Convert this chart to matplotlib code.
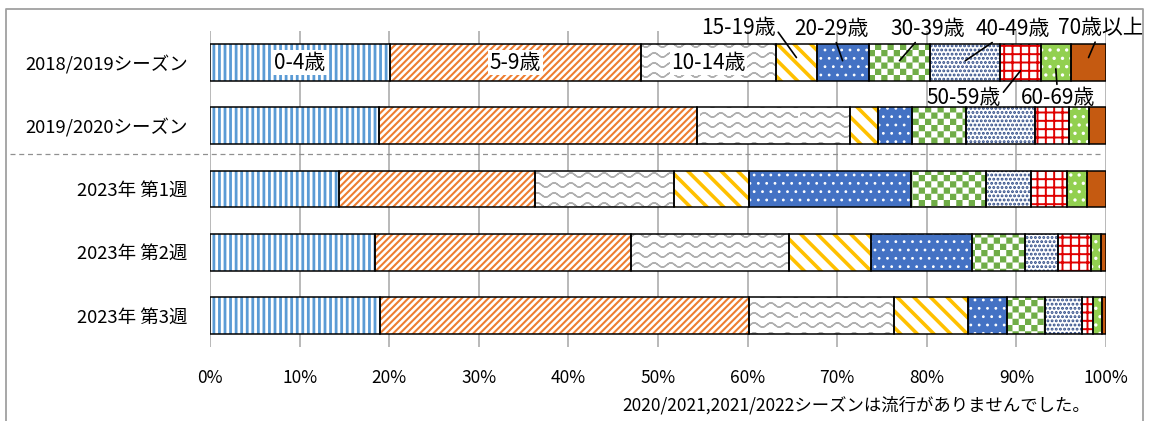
import warnings
import numpy as np
import matplotlib
matplotlib.use('Agg')
import matplotlib.pyplot as plt
import matplotlib.hatch as mhatch
from matplotlib.path import Path
from matplotlib.lines import Line2D
from matplotlib.transforms import blended_transform_factory

warnings.filterwarnings('ignore')

# データ
periods = ['2018/2019シーズン', '2019/2020シーズン',
           '2023年 第1週', '2023年 第2週', '2023年 第3週']
age_groups = ['0-4歳', '5-9歳', '10-14歳', '15-19歳', '20-29歳',
              '30-39歳', '40-49歳', '50-59歳', '60-69歳', '70歳以上']
# 各期間の年齢群別割合(%)
season_2018_19 = [20.1, 28.0, 15.1, 4.5, 5.8, 6.9, 7.8, 4.5, 3.4, 3.9]
season_2019_20 = [18.9, 35.4, 17.1, 3.2, 3.7, 6.1, 7.7, 3.8, 2.2, 1.9]
week1_2023 = [14.4, 21.9, 15.5, 8.4, 18.0, 8.4, 5.0, 4.1, 2.2, 2.1]
week2_2023 = [18.4, 28.6, 17.6, 9.2, 11.2, 6.0, 3.6, 3.7, 1.1, 0.6]
week3_2023 = [19.0, 41.2, 16.1, 8.3, 4.3, 4.3, 4.1, 1.3, 0.9, 0.5]
x_ticks = [0, 10, 20, 30, 40, 50, 60, 70, 80, 90, 100]
note = '2020/2021,2021/2022シーズンは流行がありませんでした。'


# 波線と市松模様のハッチを追加
class WaveHatch(mhatch.HatchPatternBase):
    def __init__(self, hatch, density):
        self.num_rows = hatch.count('~') * 10
        self.num_pts = 49
        self.num_vertices = self.num_rows * self.num_pts * 2

    def set_vertices_and_codes(self, vertices, codes):
        t = np.linspace(0, 1, self.num_pts)
        wave = 0.022 * np.sin(2 * np.pi * 6 * t)
        n = 2 * self.num_pts
        for i in range(self.num_rows):
            y0 = (i + 0.5) / self.num_rows
            ys = y0 + wave
            vertices[i * n:(i + 1) * n, 0] = np.concatenate([t, t[::-1]])
            vertices[i * n:(i + 1) * n, 1] = np.concatenate([ys, ys[::-1]])
            codes[i * n:(i + 1) * n] = Path.LINETO
            codes[i * n] = Path.MOVETO


class CheckerHatch(mhatch.HatchPatternBase):
    def __init__(self, hatch, density):
        self.n = hatch.count('#') * 16
        self.num_vertices = (self.n * self.n // 2) * 5

    def set_vertices_and_codes(self, vertices, codes):
        s = 1.0 / self.n
        k = 0
        for r in range(self.n):
            for c in range(self.n):
                if (r + c) % 2:
                    continue
                x0, y0 = c * s, r * s
                vertices[k:k + 5] = [(x0, y0), (x0 + s, y0), (x0 + s, y0 + s),
                                     (x0, y0 + s), (x0, y0)]
                codes[k:k + 5] = [Path.MOVETO, Path.LINETO, Path.LINETO,
                                  Path.LINETO, Path.CLOSEPOLY]
                k += 5


mhatch._hatch_types.append(WaveHatch)
mhatch._hatch_types.append(CheckerHatch)

plt.rcParams['font.family'] = ['Noto Sans CJK JP', 'DejaVu Sans']
plt.rcParams['font.size'] = 12.5
plt.rcParams['hatch.linewidth'] = 1.5

# (塗り色, 模様色, ハッチ, 模様線幅)
styles = [
    ('white', '#5B9BD5', '|||', 2.0),
    ('white', '#ED7D31', '/////', 1.5),
    ('white', '#B0B0B0', '~', 1.0),
    ('white', '#FFC000', '\\\\', 2.6),
    ('#4472C4', 'white', '..', 0.8),
    ('white', '#70AD47', '#', 0.0),
    ('white', '#2E4A86', '....', 1.4),
    ('white', '#E00000', '++', 1.4),
    ('#92D050', 'white', '..', 1.2),
    ('#C55A11', '#C55A11', '', 0.0),
]

data = np.array([season_2018_19, season_2019_20, week1_2023, week2_2023, week3_2023])
y = np.arange(len(periods))
left = np.zeros(len(periods))

fig = plt.figure(figsize=(11.52, 4.21), dpi=100)
ax = fig.add_axes([210 / 1152, 74 / 421, 896 / 1152, 316 / 421])

bar_h = 0.58
for j, name in enumerate(age_groups):
    face, hcol, hatch, hlw = styles[j]
    vals = data[:, j]
    bars = ax.barh(y, vals, left=left, height=bar_h, color=face,
                   edgecolor=hcol, hatch=hatch or None, linewidth=0, zorder=2)
    for b in bars:
        if hasattr(b, 'set_hatch_linewidth'):
            b.set_hatch_linewidth(hlw)
    ax.barh(y, vals, left=left, height=bar_h, color='none',
            edgecolor='black', linewidth=1.1, zorder=3)
    left = left + vals

# 2018/2019 のラベル
label_size = 15
starts = np.concatenate([[0], np.cumsum(season_2018_19)[:-1]])
centers = starts + np.array(season_2018_19) / 2
for j in range(3):
    ax.text(centers[j], 0, age_groups[j], ha='center', va='center', zorder=4,
            fontsize=label_size,
            bbox=dict(facecolor='white', edgecolor='none', pad=1.0))

# 引き出し線付きラベル (dy, offset, relpos)
callouts = {
    3: (-0.08, (-42, 21), (1.0, 0.5)),
    4: (-0.03, (-8, 23), (0.5, 0.5)),
    5: (-0.03, (20, 23), (0.5, 0.5)),
    6: (-0.03, (34, 23), (0.5, 0.5)),
    7: (0.13, (-41, -19.5), (1.0, 0.6)),
    8: (0.10, (1.5, -21), (0.5, 0.5)),
    9: (-0.08, (9, 21), (0.5, 0.5)),
}
for j, (dy, off, rel) in callouts.items():
    ax.annotate(age_groups[j], xy=(centers[j], dy), xytext=off,
                textcoords='offset points', ha='center', va='center',
                fontsize=label_size, annotation_clip=False, zorder=5,
                arrowprops=dict(arrowstyle='-', color='black', lw=1.2,
                                shrinkA=0, shrinkB=0, relpos=rel))

ax.set_xlim(0, 100)
ax.set_ylim(len(periods) - 0.5, -0.5)
ax.set_xticks(x_ticks)
ax.set_xticklabels([f'{v}%' for v in x_ticks])
ax.set_yticks(y)
ax.set_yticklabels(periods, fontsize=13.3)
ax.tick_params(axis='both', length=0)
ax.tick_params(axis='x', pad=16)
ax.tick_params(axis='y', pad=16)
ax.grid(axis='x', color='#A6A6A6', linewidth=1.1, zorder=0)
ax.set_axisbelow(True)
for s in ax.spines.values():
    s.set_visible(False)

# 区切りの破線
trans = blended_transform_factory(ax.transAxes, ax.transData)
ax.plot([-0.223, 0.993], [1.45, 1.45], transform=trans, color='#909090',
        linestyle=(0, (4, 3)), linewidth=0.9, clip_on=False, zorder=1)

fig.text(1090 / 1152, 1 - 405 / 421, note, ha='right', va='center')

# 枠線
bx0, bx1, by0 = 6 / 1152, 1143 / 1152, 1 - 9 / 421
fig.add_artist(Line2D([bx0, bx0, bx1, bx1], [0, by0, by0, 0],
                      color='#A0A0A0', linewidth=1.3, transform=fig.transFigure))

fig.savefig('out.png', dpi=100, facecolor='white')
